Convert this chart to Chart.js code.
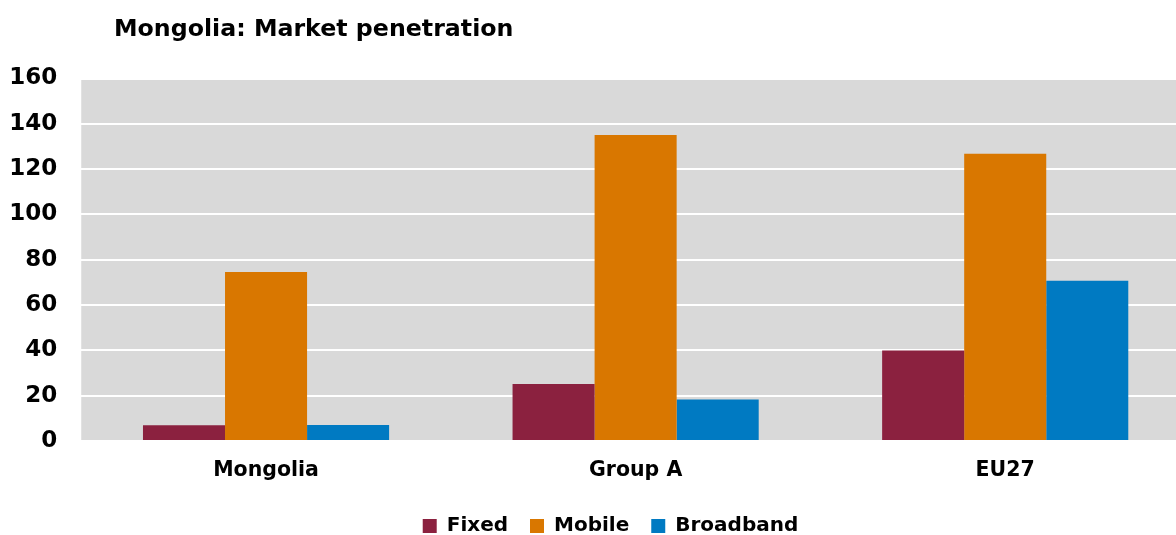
<!DOCTYPE html>
<html>
<head>
<meta charset="utf-8">
<script src="https://cdn.jsdelivr.net/npm/chart.js@4/dist/chart.umd.min.js"></script>
<style>
  html, body { margin: 0; padding: 0; background: #fff; overflow: hidden; }
  #frame { width: 1176px; height: 535px; overflow: hidden; position: relative; }
  #chart { display: block; }
</style>
</head>
<body>
<div id="frame"><canvas id="chart" width="1190" height="546"></canvas></div>
<script>
// Market penetration per 100 inhabitants
const chartTitle = 'Mongolia: Market penetration';
const categories = ['Mongolia', 'Group A', 'EU27'];
const seriesNames = ['Fixed', 'Mobile', 'Broadband'];
const fixedValues = [7.0, 25.2, 39.9];
const mobileValues = [74.6, 135.1, 126.8];
const broadbandValues = [7.1, 18.3, 70.7];
const yTicks = [0, 20, 40, 60, 80, 100, 120, 140, 160];

const seriesColors = ['#8B213F', '#D97700', '#007AC2'];
const seriesValues = [fixedValues, mobileValues, broadbandValues];

// grey plot background behind the grid
const plotBackground = {
  id: 'plotBackground',
  beforeDraw(chart) {
    const { ctx, chartArea: a } = chart;
    ctx.save();
    ctx.fillStyle = '#D9D9D9';
    ctx.fillRect(a.left, a.top, a.right - a.left, a.bottom - a.top);
    ctx.restore();
  }
};

// chart heading, set in from the left edge
const headingText = {
  id: 'headingText',
  afterDraw(chart) {
    const ctx = chart.ctx;
    ctx.save();
    ctx.fillStyle = '#000';
    ctx.font = 'bold 23.7px "DejaVu Sans"';
    ctx.textAlign = 'left';
    ctx.textBaseline = 'alphabetic';
    ctx.fillText(chartTitle, 114, 36);
    ctx.restore();
  }
};

// nudge the legend row a little to the right of the canvas centre
const legendNudge = {
  id: 'legendNudge',
  afterLayout(chart) {
    const lg = chart.legend;
    if (lg) { lg.left += 11; lg.right += 11; }
  }
};

Chart.defaults.color = '#000';
Chart.defaults.font.family = '"DejaVu Sans"';

new Chart(document.getElementById('chart'), {
  type: 'bar',
  data: {
    labels: categories,
    datasets: seriesNames.map((name, i) => ({
      label: name,
      data: seriesValues[i],
      backgroundColor: seriesColors[i],
      borderWidth: 0,
      categoryPercentage: 0.666,
      barPercentage: 1.0
    }))
  },
  options: {
    responsive: false,
    animation: false,
    layout: { padding: { left: 9, right: 0, top: 78.5, bottom: 0 } },
    plugins: {
      title: { display: false },
      tooltip: { enabled: false },
      legend: {
        position: 'bottom',
        labels: {
          boxWidth: 14,
          boxHeight: 14,
          padding: 22,
          font: { size: 20, weight: 'bold' }
        }
      }
    },
    scales: {
      x: {
        grid: { display: false, drawTicks: false },
        border: { display: false },
        ticks: { padding: 17.5, font: { size: 20.5, weight: 'bold' }, maxRotation: 0 },
        afterFit(scale) { scale.height = 53; }
      },
      y: {
        min: 0,
        max: 160,
        afterBuildTicks(scale) { scale.ticks = yTicks.map(v => ({ value: v })); },
        grid: { color: '#FFFFFF', lineWidth: 2, drawTicks: false },
        border: { display: false },
        ticks: { padding: 24, font: { size: 23, weight: 'bold' } },
        afterFit(scale) { scale.width = 72.25; }
      }
    }
  },
  plugins: [plotBackground, headingText, legendNudge]
});
</script>
</body>
</html>
